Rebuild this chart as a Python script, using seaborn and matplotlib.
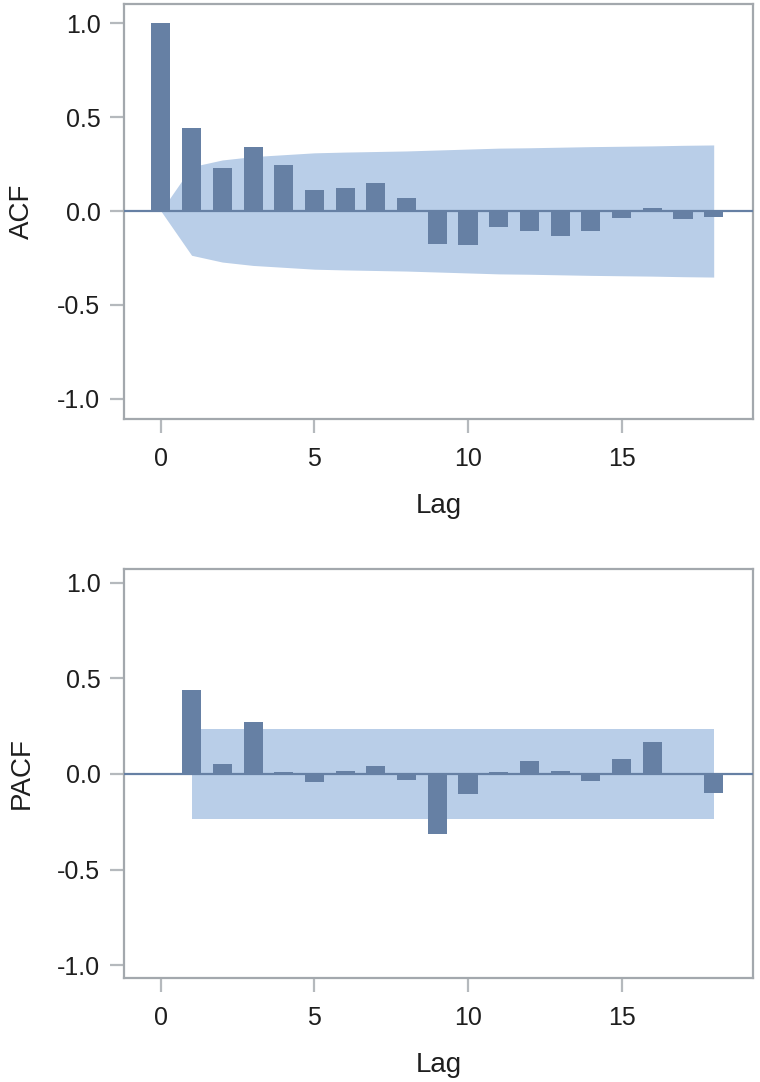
import numpy as np
import pandas as pd
import matplotlib
matplotlib.use("Agg")
import matplotlib.pyplot as plt
import seaborn as sns

# ---- data ----
acf_lags = list(range(0, 19))
acf_values = [1.0, 0.44, 0.231, 0.34, 0.245, 0.114, 0.123, 0.148, 0.069,
              -0.178, -0.183, -0.085, -0.108, -0.133, -0.108, -0.039, 0.018,
              -0.041, -0.032]
acf_band = [0.0, 0.236, 0.272, 0.29, 0.30, 0.31, 0.314, 0.317, 0.32, 0.325,
            0.33, 0.335, 0.337, 0.34, 0.343, 0.345, 0.347, 0.35, 0.352]

pacf_lags = list(range(1, 19))
pacf_values = [0.438, 0.054, 0.272, 0.01, -0.042, 0.014, 0.042, -0.03,
               -0.312, -0.106, 0.008, 0.066, 0.017, -0.038, 0.08, 0.168,
               0.0, -0.098]
pacf_band = [0.238] * 18

x_ticks = [0, 5, 10, 15]
y_ticks = [-1.0, -0.5, 0.0, 0.5, 1.0]

# ---- style ----
sns.set_style("white")
plt.rcParams['font.family'] = ['Liberation Sans', 'DejaVu Sans']

BAR = "#6680A4"
BAND = "#B9CEE8"
FRAME = "#A3A8AD"
TEXT = "#1E1E1E"

fig = plt.figure(figsize=(7.6, 10.82), dpi=100)
ax1 = fig.add_axes([0.1632, 0.6128, 0.8276, 0.3835])
ax2 = fig.add_axes([0.1632, 0.0961, 0.8276, 0.3780])


def draw(ax, lags, vals, band, ylabel, ylim):
    lags = np.asarray(lags, dtype=float)
    band = np.asarray(band, dtype=float)
    ax.fill_between(lags, -band, band, color=BAND, linewidth=0, zorder=1)
    df = pd.DataFrame({"lag": lags, "value": vals})
    sns.barplot(data=df, x="lag", y="value", native_scale=True, width=0.62,
                color=BAR, saturation=1, ax=ax, zorder=2, linewidth=0)
    ax.axhline(0, color=BAR, linewidth=1.6, zorder=3)
    ax.set_xlim(-1.2, 19.28)
    ax.set_ylim(*ylim)
    ax.set_xticks(x_ticks)
    ax.set_xticklabels([str(t) for t in x_ticks])
    ax.set_yticks(y_ticks)
    ax.set_yticklabels([f"{t:.1f}" for t in y_ticks])
    ax.tick_params(axis="both", which="major", length=10, width=1.6,
                   color="#B5B9BD", labelsize=18, labelcolor=TEXT,
                   direction="out", left=True, bottom=True)
    ax.tick_params(axis="x", pad=10)
    ax.tick_params(axis="y", pad=7)
    for s in ax.spines.values():
        s.set_color(FRAME)
        s.set_linewidth(1.6)
        s.set_visible(True)
    ax.set_xlabel("Lag", fontsize=20, color=TEXT, labelpad=16)
    ax.set_ylabel(ylabel, fontsize=20, color=TEXT, labelpad=16)
    ax.grid(False)


draw(ax1, acf_lags, acf_values, acf_band, "ACF", (-1.108, 1.103))
draw(ax2, pacf_lags, pacf_values, pacf_band, "PACF", (-1.068, 1.073))

fig.savefig("out.png", dpi=100)
